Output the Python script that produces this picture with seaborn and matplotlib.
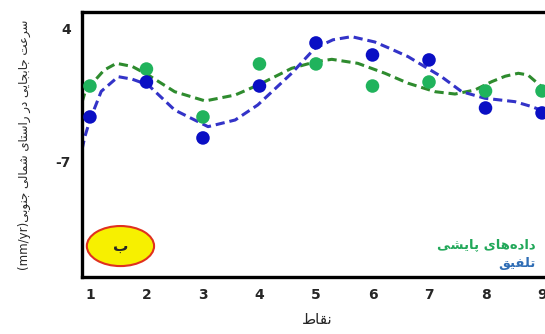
# -*- coding: utf-8 -*-
# recreate: north-south displacement velocity, monitoring data vs fusion

import pandas as pd
import seaborn as sns
import matplotlib
matplotlib.use('Agg')
import matplotlib.pyplot as plt
from matplotlib.patches import Ellipse

# data
points = [1, 2, 3, 4, 5, 6, 7, 8, 9]
monitoring = [-0.76, 0.64, -3.31, 1.06, 1.06, -0.76, -0.43, -1.17, -1.17]
fusion = [-3.31, -0.43, -5.04, -0.76, 2.79, 1.80, 1.39, -2.57, -2.98]

# dashed fitted curves, read at irregular x
green_curve_x = [0.86, 0.91, 1.0, 1.25, 1.47, 1.75, 2.03, 2.5, 3.04, 3.57, 3.98, 4.57,
                 5.0, 5.28, 5.74, 6.22, 6.63, 7.11, 7.46, 7.81, 8.11, 8.35, 8.58,
                 8.75, 8.99, 9.2]
green_curve_y = [-2.1, -1.33, -0.76, 0.55, 1.11, 0.85, 0.15, -1.23, -1.99, -1.5, -0.67,
                 0.70, 1.25, 1.44, 1.11, 0.29, -0.53, -1.23, -1.42, -1.09, -0.40,
                 0.05, 0.29, 0.15, -0.81, -1.6]
blue_curve_x = [0.86, 0.91, 1.0, 1.2, 1.5, 1.75, 2.03, 2.5, 3.09, 3.57, 3.97, 4.57,
                4.98, 5.3, 5.63, 6.04, 6.3, 6.63, 7.22, 7.58, 7.99, 8.52, 8.82, 9.05, 9.2]
blue_curve_y = [-6.0, -4.94, -3.56, -1.2, 0.01, -0.2, -0.67, -2.74, -4.11, -3.56, -2.32,
                0.29, 2.35, 3.05, 3.31, 2.87, 2.35, 1.66, 0.01, -1.23, -1.77, -2.05,
                -2.46, -2.88, -3.2]

ytick_vals = [4, -7]
series_names = ['داده‌های پایشی', 'تلفیق']
ylabel_fa = 'سرعت جابجایی در راستای شمالی جنوبی'
ylabel_unit = '(mm/yr)'
xlabel_fa = 'نقاط'
panel_letter = 'ب'

# --- minimal arabic/persian shaping (matplotlib has no bidi/shaping) ---
# isolated, final, initial, medial
FORMS = {
    'ا': ('\uFE8D', '\uFE8E', None, None), 'آ': ('\uFE81', '\uFE82', None, None),
    'ب': ('\uFE8F', '\uFE90', '\uFE91', '\uFE92'), 'پ': ('\uFB56', '\uFB57', '\uFB58', '\uFB59'),
    'ت': ('\uFE95', '\uFE96', '\uFE97', '\uFE98'), 'ث': ('\uFE99', '\uFE9A', '\uFE9B', '\uFE9C'),
    'ج': ('\uFE9D', '\uFE9E', '\uFE9F', '\uFEA0'), 'چ': ('\uFB7A', '\uFB7B', '\uFB7C', '\uFB7D'),
    'ح': ('\uFEA1', '\uFEA2', '\uFEA3', '\uFEA4'), 'خ': ('\uFEA5', '\uFEA6', '\uFEA7', '\uFEA8'),
    'د': ('\uFEA9', '\uFEAA', None, None), 'ذ': ('\uFEAB', '\uFEAC', None, None),
    'ر': ('\uFEAD', '\uFEAE', None, None), 'ز': ('\uFEAF', '\uFEB0', None, None),
    'ژ': ('\uFB8A', '\uFB8B', None, None),
    'س': ('\uFEB1', '\uFEB2', '\uFEB3', '\uFEB4'), 'ش': ('\uFEB5', '\uFEB6', '\uFEB7', '\uFEB8'),
    'ص': ('\uFEB9', '\uFEBA', '\uFEBB', '\uFEBC'), 'ض': ('\uFEBD', '\uFEBE', '\uFEBF', '\uFEC0'),
    'ط': ('\uFEC1', '\uFEC2', '\uFEC3', '\uFEC4'), 'ظ': ('\uFEC5', '\uFEC6', '\uFEC7', '\uFEC8'),
    'ع': ('\uFEC9', '\uFECA', '\uFECB', '\uFECC'), 'غ': ('\uFECD', '\uFECE', '\uFECF', '\uFED0'),
    'ف': ('\uFED1', '\uFED2', '\uFED3', '\uFED4'), 'ق': ('\uFED5', '\uFED6', '\uFED7', '\uFED8'),
    'ک': ('\uFB8E', '\uFB8F', '\uFB90', '\uFB91'), 'گ': ('\uFB92', '\uFB93', '\uFB94', '\uFB95'),
    'ل': ('\uFEDD', '\uFEDE', '\uFEDF', '\uFEE0'), 'م': ('\uFEE1', '\uFEE2', '\uFEE3', '\uFEE4'),
    'ن': ('\uFEE5', '\uFEE6', '\uFEE7', '\uFEE8'), 'ه': ('\uFEE9', '\uFEEA', '\uFEEB', '\uFEEC'),
    'و': ('\uFEED', '\uFEEE', None, None),
    'ی': ('\uFBFC', '\uFBFD', '\uFBFE', '\uFBFF'),
}


def dual(c):
    return c in FORMS and FORMS[c][2] is not None


def shape(text):
    out = []
    for i, c in enumerate(text):
        if c not in FORMS:
            if c != '\u200c':
                out.append(c)
            continue
        prev = text[i - 1] if i > 0 else ''
        nxt = text[i + 1] if i + 1 < len(text) else ''
        join_prev = dual(prev)
        join_next = dual(c) and nxt in FORMS
        f = FORMS[c]
        if join_prev and join_next:
            out.append(f[3])
        elif join_prev:
            out.append(f[1])
        elif join_next:
            out.append(f[2])
        else:
            out.append(f[0])
    return ''.join(out)[::-1]


df_pts = pd.DataFrame({'x': points * 2,
                       'v': monitoring + fusion,
                       'kind': ['m'] * len(points) + ['f'] * len(points)})
df_green = pd.DataFrame({'x': green_curve_x, 'v': green_curve_y})
df_blue = pd.DataFrame({'x': blue_curve_x, 'v': blue_curve_y})

sns.set_theme(style='white')
plt.rcParams['font.family'] = ['DejaVu Sans']

fig = plt.figure(figsize=(5.45, 3.34), dpi=100)
ax = fig.add_axes([0.1505, 0.1707, 0.8648, 0.7919])

sns.lineplot(data=df_green, x='x', y='v', ax=ax, color='#2e8b2e', lw=2.2,
             linestyle=(0, (3, 1.6)), sort=False)
sns.lineplot(data=df_blue, x='x', y='v', ax=ax, color='#3333c8', lw=2.2,
             linestyle=(0, (3, 1.6)), sort=False)
sns.scatterplot(data=df_pts, x='x', y='v', hue='kind',
                palette={'m': '#20b35c', 'f': '#0a0fc4'},
                s=95, edgecolor='none', ax=ax, legend=False, zorder=3)

ax.set_xlim(0.86, 9.2)
ax.set_ylim(-16.5, 5.3)
ax.set_xticks(points)
ax.set_xticklabels([str(p) for p in points], fontweight='bold', fontsize=10)
ax.set_yticks(ytick_vals)
ax.set_yticklabels([str(v) for v in ytick_vals], fontweight='bold', fontsize=10)
ax.tick_params(length=0, pad=8)

for s in ax.spines.values():
    s.set_color('black')
    s.set_linewidth(2.4)

ax.set_xlabel(shape(xlabel_fa), fontsize=11, labelpad=7)
ax.set_ylabel(ylabel_unit + shape(ylabel_fa), fontsize=8.5, labelpad=18)

# panel marker
ax.add_patch(Ellipse((1.54, -13.95), 1.19, 3.3, facecolor='#f7f000',
                     edgecolor='#e0301e', lw=1.5, zorder=4))
ax.text(1.54, -13.95, shape(panel_letter), ha='center', va='center',
        fontsize=11, fontweight='bold', zorder=5)

# text-only legend
ax.text(8.88, -13.86, shape(series_names[0]), ha='right', va='center',
        color='#22a85a', fontsize=9.5, fontweight='bold')
ax.text(8.88, -15.35, shape(series_names[1]), ha='right', va='center',
        color='#2f6db5', fontsize=9.5, fontweight='bold')

fig.savefig('out.png', dpi=100)
